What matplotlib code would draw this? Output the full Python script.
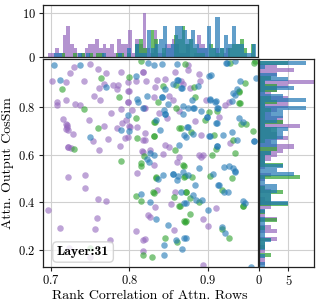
import matplotlib
matplotlib.use("Agg")
import matplotlib.pyplot as plt
import numpy as np

plt.rcParams['font.family'] = ['cmr10', 'DejaVu Serif']
plt.rcParams['mathtext.fontset'] = 'cm'
plt.rcParams['axes.formatter.use_mathtext'] = True
plt.rcParams['axes.unicode_minus'] = False

purple_x = [0.730, 0.750, 0.760, 0.725, 0.771, 0.702, 0.720, 0.743, 0.768, 0.779, 0.761, 0.755, 0.763,
            0.719, 0.708, 0.708, 0.731, 0.738, 0.777, 0.716, 0.749, 0.719, 0.768, 0.721, 0.722, 0.728,
            0.773, 0.754, 0.722, 0.726, 0.762,
            0.722, 0.744, 0.744, 0.760, 0.770, 0.697, 0.759, 0.712, 0.756, 0.776, 0.723, 0.750,
            0.789, 0.818, 0.858, 0.798, 0.808, 0.821, 0.835, 0.846, 0.866, 0.786, 0.784, 0.799, 0.833,
            0.868, 0.832, 0.850, 0.798, 0.855, 0.820, 0.790, 0.804, 0.863, 0.838, 0.848, 0.796, 0.791,
            0.800, 0.785, 0.810, 0.820, 0.799, 0.794, 0.820, 0.788, 0.846, 0.851, 0.816, 0.843, 0.826,
            0.863,
            0.875, 0.875, 0.889, 0.890, 0.877, 0.897, 0.927, 0.922, 0.914, 0.883, 0.891, 0.928, 0.889,
            0.894, 0.891,
            0.832, 0.861, 0.810, 0.835, 0.858, 0.853, 0.833, 0.824, 0.827, 0.809, 0.857, 0.818, 0.817,
            0.910, 0.894, 0.900, 0.894,
            0.721, 0.720, 0.722, 0.800, 0.799, 0.801, 0.818, 0.819, 0.817, 0.818, 0.820]
purple_y = [0.965, 0.978, 0.957, 0.940, 0.940, 0.910, 0.904, 0.906, 0.896, 0.893, 0.878, 0.846, 0.829,
            0.829, 0.821, 0.806, 0.811, 0.806, 0.774, 0.750, 0.743, 0.729, 0.721, 0.715, 0.702, 0.686,
            0.664, 0.657, 0.631, 0.628, 0.620,
            0.507, 0.514, 0.461, 0.415, 0.407, 0.370, 0.333, 0.292, 0.287, 0.242, 0.208, 0.170,
            0.947, 0.947, 0.945, 0.903, 0.908, 0.906, 0.911, 0.917, 0.908, 0.892, 0.875, 0.867, 0.881,
            0.895, 0.839, 0.846, 0.820, 0.827, 0.797, 0.792, 0.788, 0.781, 0.774, 0.753, 0.746, 0.731,
            0.718, 0.711, 0.714, 0.690, 0.674, 0.668, 0.660, 0.636, 0.642, 0.631, 0.615, 0.603, 0.621,
            0.590,
            0.975, 0.954, 0.939, 0.908, 0.878, 0.827, 0.820, 0.806, 0.756, 0.739, 0.681, 0.649, 0.600,
            0.597, 0.589,
            0.558, 0.570, 0.524, 0.450, 0.445, 0.393, 0.381, 0.347, 0.340, 0.279, 0.285, 0.245, 0.197,
            0.378, 0.331, 0.303, 0.139,
            0.722, 0.708, 0.633, 0.866, 0.820, 0.716, 0.945, 0.795, 0.663, 0.613, 0.247]

green_x = [0.764, 0.714, 0.743, 0.760, 0.730, 0.750, 0.815, 0.871, 0.800, 0.843, 0.860, 0.787, 0.836,
           0.859, 0.808, 0.831, 0.863, 0.810, 0.832, 0.858, 0.819, 0.789, 0.928, 0.959, 0.960, 0.947,
           0.882, 0.939, 0.884, 0.940, 0.901, 0.911, 0.896, 0.948, 0.878, 0.908, 0.932, 0.957, 0.910,
           0.935, 0.905, 0.815, 0.815, 0.869, 0.834, 0.870, 0.831, 0.808, 0.857, 0.815, 0.864, 0.871,
           0.846, 0.861, 0.818, 0.829, 0.931, 0.880, 0.903, 0.918, 0.872, 0.877, 0.889, 0.945, 0.877,
           0.872, 0.918, 0.927,
           0.833, 0.832, 0.834, 0.830, 0.866, 0.868, 0.871, 0.872, 0.870, 0.863, 0.941, 0.939, 0.945,
           0.942]
green_y = [0.920, 0.875, 0.790, 0.710, 0.624, 0.211, 0.992, 0.978, 0.924, 0.885, 0.892, 0.843, 0.820,
           0.797, 0.753, 0.736, 0.711, 0.668, 0.677, 0.621, 0.593, 0.575, 0.983, 0.982, 0.993, 0.899,
           0.881, 0.864, 0.843, 0.815, 0.778, 0.781, 0.746, 0.728, 0.695, 0.683, 0.663, 0.697, 0.625,
           0.607, 0.600, 0.563, 0.553, 0.553, 0.504, 0.507, 0.440, 0.425, 0.424, 0.404, 0.385, 0.320,
           0.253, 0.236, 0.181, 0.171, 0.504, 0.507, 0.511, 0.452, 0.442, 0.417, 0.400, 0.385, 0.352,
           0.322, 0.288, 0.253,
           0.738, 0.679, 0.506, 0.442, 0.713, 0.555, 0.509, 0.444, 0.323, 0.387, 0.817, 0.866, 0.387,
           0.730]

blue_x = [0.704, 0.738, 0.712, 0.770, 0.750, 0.824, 0.831, 0.841, 0.861, 0.809, 0.861, 0.846, 0.855,
          0.866, 0.823, 0.841, 0.810, 0.811, 0.849, 0.818, 0.844, 0.868, 0.798, 0.845, 0.868, 0.834,
          0.789, 0.800, 0.839, 0.870, 0.863, 0.827, 0.832, 0.823, 0.923, 0.934, 0.901, 0.904, 0.941,
          0.961, 0.887, 0.937, 0.934, 0.932, 0.880, 0.902, 0.909, 0.931, 0.875, 0.881, 0.891, 0.913,
          0.899, 0.911, 0.940, 0.944, 0.875, 0.881, 0.872, 0.902, 0.919, 0.930, 0.937, 0.959, 0.911,
          0.825, 0.843, 0.855, 0.862, 0.868, 0.837, 0.861, 0.866, 0.815, 0.827, 0.870, 0.834, 0.849,
          0.860, 0.870, 0.844, 0.844, 0.867, 0.889, 0.921, 0.932, 0.934, 0.875, 0.906, 0.883, 0.913,
          0.921, 0.881, 0.885, 0.893, 0.872, 0.944, 0.947, 0.900, 0.918, 0.922, 0.872, 0.955,
          0.912, 0.910, 0.912, 0.914, 0.910, 0.901, 0.899, 0.902, 0.924, 0.926, 0.927, 0.862, 0.867,
          0.856, 0.845, 0.842, 0.958, 0.935, 0.882, 0.874]
blue_y = [0.973, 0.975, 0.913, 0.881, 0.675, 0.982, 0.975, 0.978, 0.981, 0.927, 0.913, 0.875, 0.895,
          0.878, 0.846, 0.839, 0.833, 0.822, 0.811, 0.795, 0.788, 0.802, 0.767, 0.770, 0.770, 0.746,
          0.704, 0.700, 0.703, 0.683, 0.639, 0.607, 0.600, 0.583, 0.983, 0.992, 0.927, 0.931, 0.908,
          0.920, 0.885, 0.875, 0.850, 0.857, 0.829, 0.829, 0.822, 0.825, 0.795, 0.795, 0.783, 0.795,
          0.756, 0.732, 0.753, 0.735, 0.714, 0.686, 0.673, 0.677, 0.683, 0.695, 0.663, 0.656, 0.635,
          0.570, 0.514, 0.517, 0.511, 0.528, 0.497, 0.493, 0.445, 0.437, 0.402, 0.396, 0.331, 0.306,
          0.243, 0.250, 0.222, 0.182, 0.206, 0.545, 0.550, 0.545, 0.528, 0.514, 0.517, 0.475, 0.472,
          0.442, 0.433, 0.410, 0.410, 0.396, 0.406, 0.396, 0.368, 0.299, 0.271, 0.253, 0.132,
          0.797, 0.734, 0.637, 0.474, 0.824, 0.679, 0.758, 0.831, 0.985, 0.444, 0.552, 0.914, 0.879,
          0.519, 0.772, 0.841, 0.658, 0.530, 0.797, 0.716]

series = [
    (purple_x, purple_y, '#9467bd'),
    (green_x, green_y, '#2ca02c'),
    (blue_x, blue_y, '#1f77b4'),
]

W, H = 319, 305
fig = plt.figure(figsize=(W / 100, H / 100), dpi=100)
ax = fig.add_axes([42.7 / W, 1 - 267 / H, (257.5 - 42.7) / W, (267 - 59) / H])
axt = fig.add_axes([42.7 / W, 1 - 57 / H, (257.5 - 42.7) / W, (57 - 5) / H], sharex=ax)
axr = fig.add_axes([259.3 / W, 1 - 267 / H, (314 - 259.3) / W, (267 - 59) / H], sharey=ax)

grid_kw = dict(color='#d0d0d0', linewidth=0.8)
for a in (ax, axt, axr):
    a.grid(True, **grid_kw)
    a.set_axisbelow(True)
    for s in a.spines.values():
        s.set_color('#222222')
        s.set_linewidth(0.9)
    a.tick_params(labelsize=9, length=3, width=0.8, color='#222222', pad=2)

for xs, ys, c in series:
    ax.scatter(xs, ys, s=22, color=c, alpha=0.6, linewidths=0)
    axt.hist(xs, bins=50, color=c, alpha=0.7)
    axr.hist(ys, bins=50, color=c, alpha=0.7, orientation='horizontal')

ax.set_xlim(0.69, 0.963)
ax.set_ylim(0.13, 1.0)
ax.set_xticks([0.7, 0.8, 0.9])
ax.set_yticks([0.2, 0.4, 0.6, 0.8])
ax.set_xlabel('Rank Correlation of Attn. Rows', fontsize=10, labelpad=2)
ax.set_ylabel('Attn. Output CosSim', fontsize=10, labelpad=3)

axt.set_ylim(0, 11.7)
axt.set_yticks([0, 10])
axt.tick_params(axis='x', labelbottom=False, length=0)

axr.set_xlim(0, 9.4)
axr.set_xticks([0, 5])
axr.tick_params(axis='y', labelleft=False, length=0)

ax.text(0.188, 0.072, 'Layer:31', transform=ax.transAxes, ha='center', va='center',
        fontsize=10, fontfamily='cmb10',
        bbox=dict(boxstyle='round,pad=0.3', facecolor='white', alpha=0.8, edgecolor='#cccccc'))

fig.savefig('out.png', dpi=100)
